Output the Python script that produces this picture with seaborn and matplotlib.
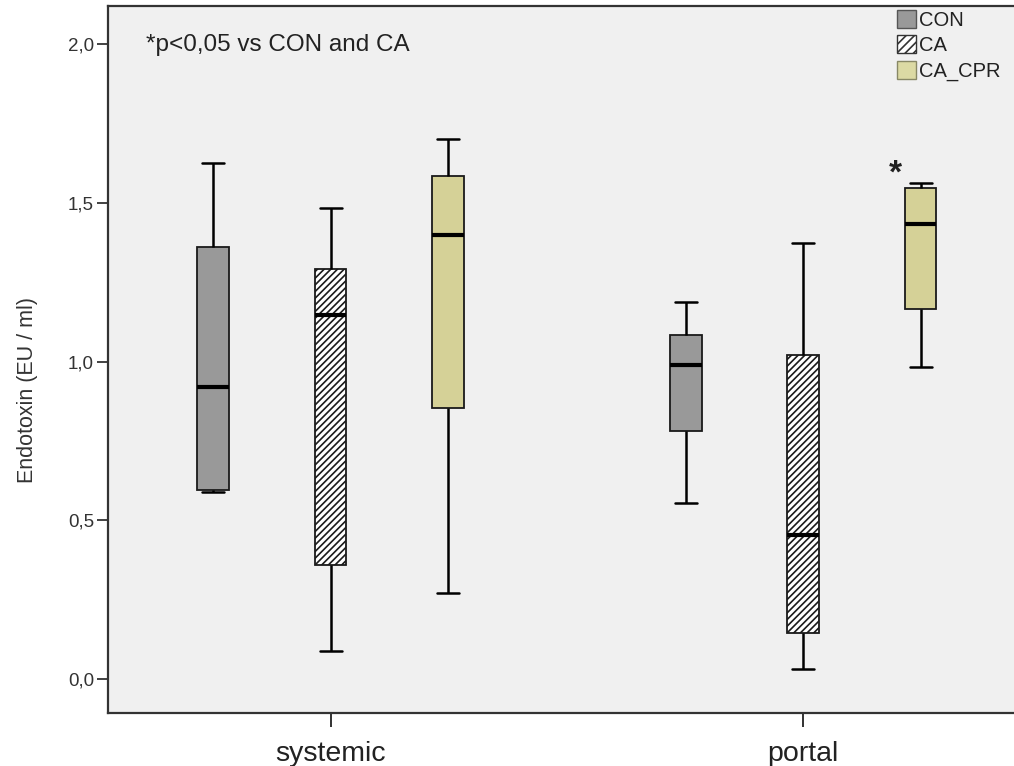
import numpy as np
import pandas as pd
import seaborn as sns
import matplotlib.pyplot as plt
from matplotlib.patches import Patch
from matplotlib.ticker import FuncFormatter

# values: [min, Q1, median, Q3, max]
sites = ["systemic", "portal"]
groups = ["CON", "CA", "CA_CPR"]
systemic_con = [0.590, 0.594, 0.920, 1.362, 1.626]
systemic_ca = [0.088, 0.358, 1.148, 1.292, 1.484]
systemic_cpr = [0.270, 0.855, 1.399, 1.585, 1.701]
portal_con = [0.553, 0.780, 0.988, 1.085, 1.189]
portal_ca = [0.031, 0.145, 0.455, 1.022, 1.374]
portal_cpr = [0.984, 1.164, 1.434, 1.547, 1.562]

series = {
    ("systemic", "CON"): systemic_con,
    ("systemic", "CA"): systemic_ca,
    ("systemic", "CA_CPR"): systemic_cpr,
    ("portal", "CON"): portal_con,
    ("portal", "CA"): portal_ca,
    ("portal", "CA_CPR"): portal_cpr,
}
rows = []
for (site, grp), vals in series.items():
    for v in vals:
        rows.append({"site": site, "group": grp, "value": v})
df = pd.DataFrame(rows)

sns.set_style("white")
plt.rcParams["font.family"] = ["Liberation Sans", "DejaVu Sans"]
plt.rcParams["hatch.linewidth"] = 1.2

colors = {"CON": "#999999", "CA": "#ffffff", "CA_CPR": "#d5d197"}

fig = plt.figure(figsize=(10.14, 7.66), dpi=100)
ax = fig.add_axes([108 / 1014, 53 / 766, 915 / 1014, 707 / 766])
ax.set_facecolor("#f0f0f0")

sns.boxplot(
    data=df, x="site", y="value", hue="group",
    order=sites, hue_order=groups, palette=colors,
    width=0.745, gap=0.73, whis=np.inf, saturation=1,
    linecolor="#1a1a1a", linewidth=1.3,
    medianprops={"color": "black", "linewidth": 3},
    whiskerprops={"linewidth": 1.8, "color": "black"},
    capprops={"linewidth": 1.8, "color": "black"},
    legend=False, ax=ax,
)

# hatch the CA boxes
for patch in ax.patches:
    fc = patch.get_facecolor()
    if fc[0] > 0.99 and fc[1] > 0.99 and fc[2] > 0.99:
        patch.set_hatch("/////")

# slightly wider caps, like SPSS
for cont in ax.containers:
    for cap in getattr(cont, "caps", []):
        x = np.asarray(cap.get_xdata(), dtype=float)
        c = x.mean()
        half = (x.max() - x.min()) / 2 * 1.4
        cap.set_xdata([c - half, c + half])

ax.set_xlim(-0.471, 1.465)
ax.set_ylim(-0.107, 2.12)
ax.set_yticks([0, 0.5, 1.0, 1.5, 2.0])
ax.yaxis.set_major_formatter(FuncFormatter(lambda v, p: f"{v:.1f}".replace(".", ",")))
ax.tick_params(axis="y", direction="out", length=8, width=1.3, labelsize=13.5,
               colors="#333333", left=True, pad=2)
ax.tick_params(axis="x", direction="out", length=10, width=1.3, labelsize=20.5,
               colors="#222222", bottom=True, pad=10)
ax.set_xlabel("")
ax.set_ylabel("Endotoxin (EU / ml)", fontsize=15.5, color="#333333")
ax.yaxis.set_label_coords(-0.0765, 0.457)
for side in ["left", "bottom", "top", "right"]:
    ax.spines[side].set_color("#333333")
    ax.spines[side].set_linewidth(1.6)

ax.text(0.042, 0.945, "*p<0,05 vs CON and CA", transform=ax.transAxes,
        fontsize=17.5, color="#222222", va="center")
ax.text(1 + 0.248 - 0.053, portal_cpr[4] - 0.02, "*", fontsize=24,
        fontweight="bold", color="#222222", ha="center", va="bottom")

handles = [
    Patch(facecolor="#999999", edgecolor="#555555", label="CON"),
    Patch(facecolor="white", edgecolor="#333333", hatch="////", label="CA"),
    Patch(facecolor="#dcdaa4", edgecolor="#888866", label="CA_CPR"),
]
ax.legend(handles=handles, loc="upper left", bbox_to_anchor=(0.849, 1.012),
          frameon=False, fontsize=14.5, handlelength=0.95, handleheight=1.0,
          handletextpad=0.15, labelspacing=0.28, borderaxespad=0.2,
          labelcolor="#222222")

fig.savefig("out.png", dpi=100, facecolor="white")
